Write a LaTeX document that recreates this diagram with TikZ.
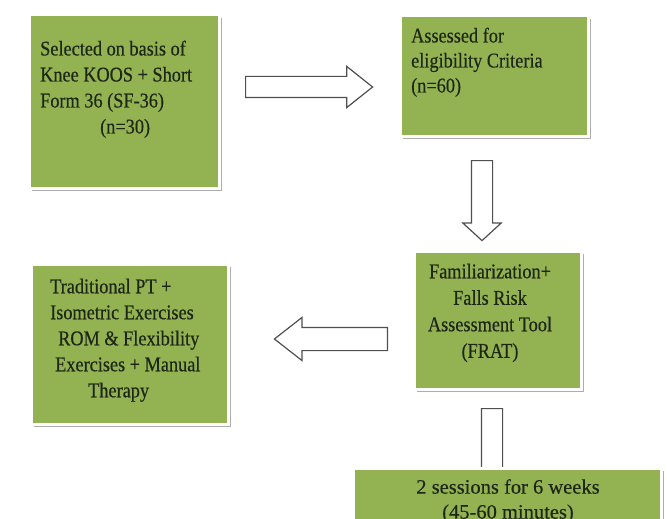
\documentclass[tikz,border=0pt]{standalone}
\usepackage{fontspec}
\setmainfont{Liberation Serif}
\newfontfamily\boxfont[FakeStretch=0.87,FakeBold=0.4]{Liberation Serif}
\newfontfamily\wideboxfont[FakeBold=0.4]{Liberation Serif}
\usetikzlibrary{shapes.arrows,shadows}
\definecolor{boxgreen}{HTML}{93B352}
\definecolor{inkdark}{HTML}{1E2616}
\definecolor{arrowline}{HTML}{4F4F4F}

\begin{document}
\begin{tikzpicture}[x=1pt,y=-1pt,
  greenbox/.style={fill=boxgreen,draw=white,line width=2.5pt,anchor=north west,inner sep=0pt,
    drop shadow={shadow xshift=3pt,shadow yshift=-3pt,fill=black!40,opacity=.8}},
  boxtext/.style={font=\boxfont\fontsize{21}{26}\selectfont,text=inkdark,inner sep=0pt},
  fatarrow/.style={single arrow,draw=arrowline,fill=white,line width=1.2pt,anchor=tail,
    inner xsep=0pt,inner ysep=10pt,single arrow head extend=10pt},
  fatdown/.style={fatarrow,inner xsep=10pt,inner ysep=0pt,shape border rotate=270}]
\useasboundingbox (0,0) rectangle (667,519);
\clip (0,0) rectangle (667,519);
% boxes
\node[greenbox,minimum width=190,minimum height=173] (b1) at (28,14) {};
\node[greenbox,minimum width=188,minimum height=120] (b2) at (399,15) {};
\node[greenbox,minimum width=167,minimum height=138] (b3) at (413,250) {};
\node[greenbox,minimum width=197,minimum height=160] (b4) at (30,263) {};
% texts
\node[boxtext,anchor=north west,align=left] (t1) at (40,40.5)
  {Selected on basis of\\Knee KOOS + Short\\Form 36 (SF-36)\\\hspace*{60pt}(n=30)};
\node[boxtext,anchor=north west,align=left,font=\boxfont\fontsize{21}{25}\selectfont] (t2) at (411,27.5)
  {Assessed for\\eligibility Criteria\\(n=60)};
\node[boxtext,anchor=north,align=center,font=\boxfont\fontsize{21}{26.5}\selectfont] (t3) at (490,263.5)
  {Familiarization+\\Falls Risk\\Assessment Tool\\(FRAT)};
\node[boxtext,anchor=north west,align=left] (t4) at (50,278.5)
  {Traditional PT +\\Isometric Exercises\\\hspace*{8pt}ROM \& Flexibility\\\hspace*{5pt}Exercises + Manual\\\hspace*{38pt}Therapy};
% arrows
\node[fatarrow,minimum height=127,single arrow tip angle=77] (a1) at (245,87) {};
\node[fatdown,minimum height=80,single arrow head extend=8.5pt,
  single arrow tip angle=95] (a2) at (482,160) {};
\node[fatarrow,minimum height=113,inner ysep=11pt,single arrow tip angle=76,
  shape border rotate=180] (a3) at (388,339) {};
\node[fatdown,minimum height=90] (a4) at (492,408) {};
% last box, cut at the bottom
\node[greenbox,minimum width=308,minimum height=80] (b5) at (352,467) {};
\node[boxtext,anchor=north,align=center,font=\wideboxfont\fontsize{20.5}{25}\selectfont] (t5) at (508,479)
  {2 sessions for 6 weeks\\(45-60 minutes)};
\end{tikzpicture}
\end{document}
